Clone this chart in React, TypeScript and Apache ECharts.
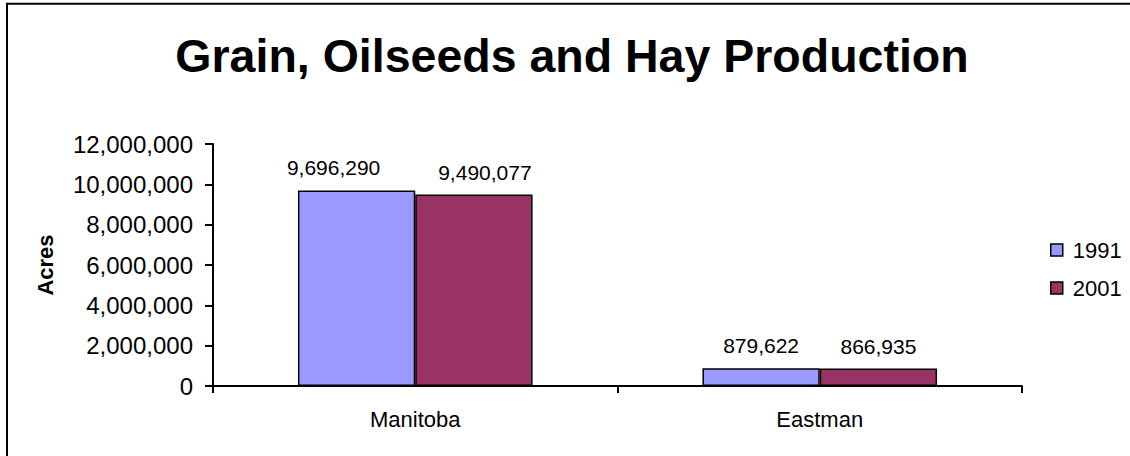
import React, { useEffect, useRef } from "react";
import * as echarts from "echarts";

const categories = ["Manitoba", "Eastman"];
const seriesNames = ["1991", "2001"];
const values1991 = [9696290, 879622];
const values2001 = [9490077, 866935];
const yTicks = [0, 2000000, 4000000, 6000000, 8000000, 10000000, 12000000];

const FONT = "'Liberation Sans', Arial, Helvetica, sans-serif";
const fmt = (v: number) => v.toLocaleString("en-US");

export default function App() {
  const ref = useRef<HTMLDivElement>(null);
  useEffect(() => {
    if (!ref.current) return;
    const chart = echarts.init(ref.current, undefined, { renderer: "svg" });
    const labelOffsets1991 = [[-23, 0], [0, 0]];
    const labelOffsets2001 = [[11, 0], [0, 0]];
    const mkData = (vals: number[], offs: number[][]) =>
      vals.map((v, i) => ({ value: v, label: { offset: offs[i] } }));
    chart.setOption({
      animation: false,
      backgroundColor: "#ffffff",
      title: {
        text: "Grain, Oilseeds and Hay Production",
        left: 567,
        textAlign: "center",
        top: 27,
        textStyle: { fontFamily: FONT, fontWeight: "bold", fontSize: 46.5, color: "#000" },
      },
      graphic: [
        {
          type: "rect",
          shape: { x: 7, y: 3.7, width: 1200, height: 500 },
          style: { fill: "none", stroke: "#000", lineWidth: 2 },
          silent: true,
        },
      ],
      legend: {
        orient: "vertical",
        left: 1045,
        top: 234,
        itemWidth: 12,
        itemHeight: 12,
        itemGap: 16,
        icon: "rect",
        data: seriesNames,
        textStyle: { fontFamily: FONT, fontSize: 22, color: "#000", padding: [0, 0, 0, 5] },
        itemStyle: { borderColor: "#000", borderWidth: 1.5 },
      },
      grid: { left: 213, right: 108, top: 144, bottom: 70, containLabel: false },
      xAxis: {
        type: "category",
        data: categories,
        axisLine: { show: true, lineStyle: { color: "#000", width: 2 } },
        axisTick: { show: true, alignWithLabel: false, interval: 0, length: 7, lineStyle: { color: "#000", width: 2 } },
        axisLabel: { fontFamily: FONT, fontSize: 22, color: "#000", margin: 22 },
        splitLine: { show: false },
      },
      yAxis: {
        type: "value",
        min: yTicks[0],
        max: yTicks[yTicks.length - 1],
        interval: yTicks[1] - yTicks[0],
        name: "Acres",
        nameLocation: "middle",
        nameGap: 157,
        nameTextStyle: { fontFamily: FONT, fontSize: 22, fontWeight: "bold", color: "#000" },
        axisLine: { show: true, lineStyle: { color: "#000", width: 2 } },
        axisTick: { show: true, length: 8, lineStyle: { color: "#000", width: 2 } },
        axisLabel: { fontFamily: FONT, fontSize: 24, color: "#000", margin: 20, formatter: (v: number) => fmt(v) },
        splitLine: { show: false },
      },
      series: [
        {
          name: seriesNames[0],
          type: "bar",
          data: mkData(values1991, labelOffsets1991),
          barGap: "0%",
          barCategoryGap: "42%",
          itemStyle: { color: "#9999FF", borderColor: "#000", borderWidth: 1.5 },
          label: {
            show: true,
            position: "top",
            distance: 12,
            fontFamily: FONT,
            fontSize: 21,
            color: "#000",
            formatter: (p: any) => fmt(p.value),
          },
        },
        {
          name: seriesNames[1],
          type: "bar",
          data: mkData(values2001, labelOffsets2001),
          barGap: "0%",
          barCategoryGap: "42%",
          itemStyle: { color: "#993366", borderColor: "#000", borderWidth: 1.5 },
          label: {
            show: true,
            position: "top",
            distance: 12,
            fontFamily: FONT,
            fontSize: 21,
            color: "#000",
            formatter: (p: any) => fmt(p.value),
          },
        },
      ],
    });
    return () => chart.dispose();
  }, []);
  return (
    <div
      ref={ref}
      style={{ position: "absolute", left: 0, top: 0, width: 1130, height: 456 }}
    />
  );
}
